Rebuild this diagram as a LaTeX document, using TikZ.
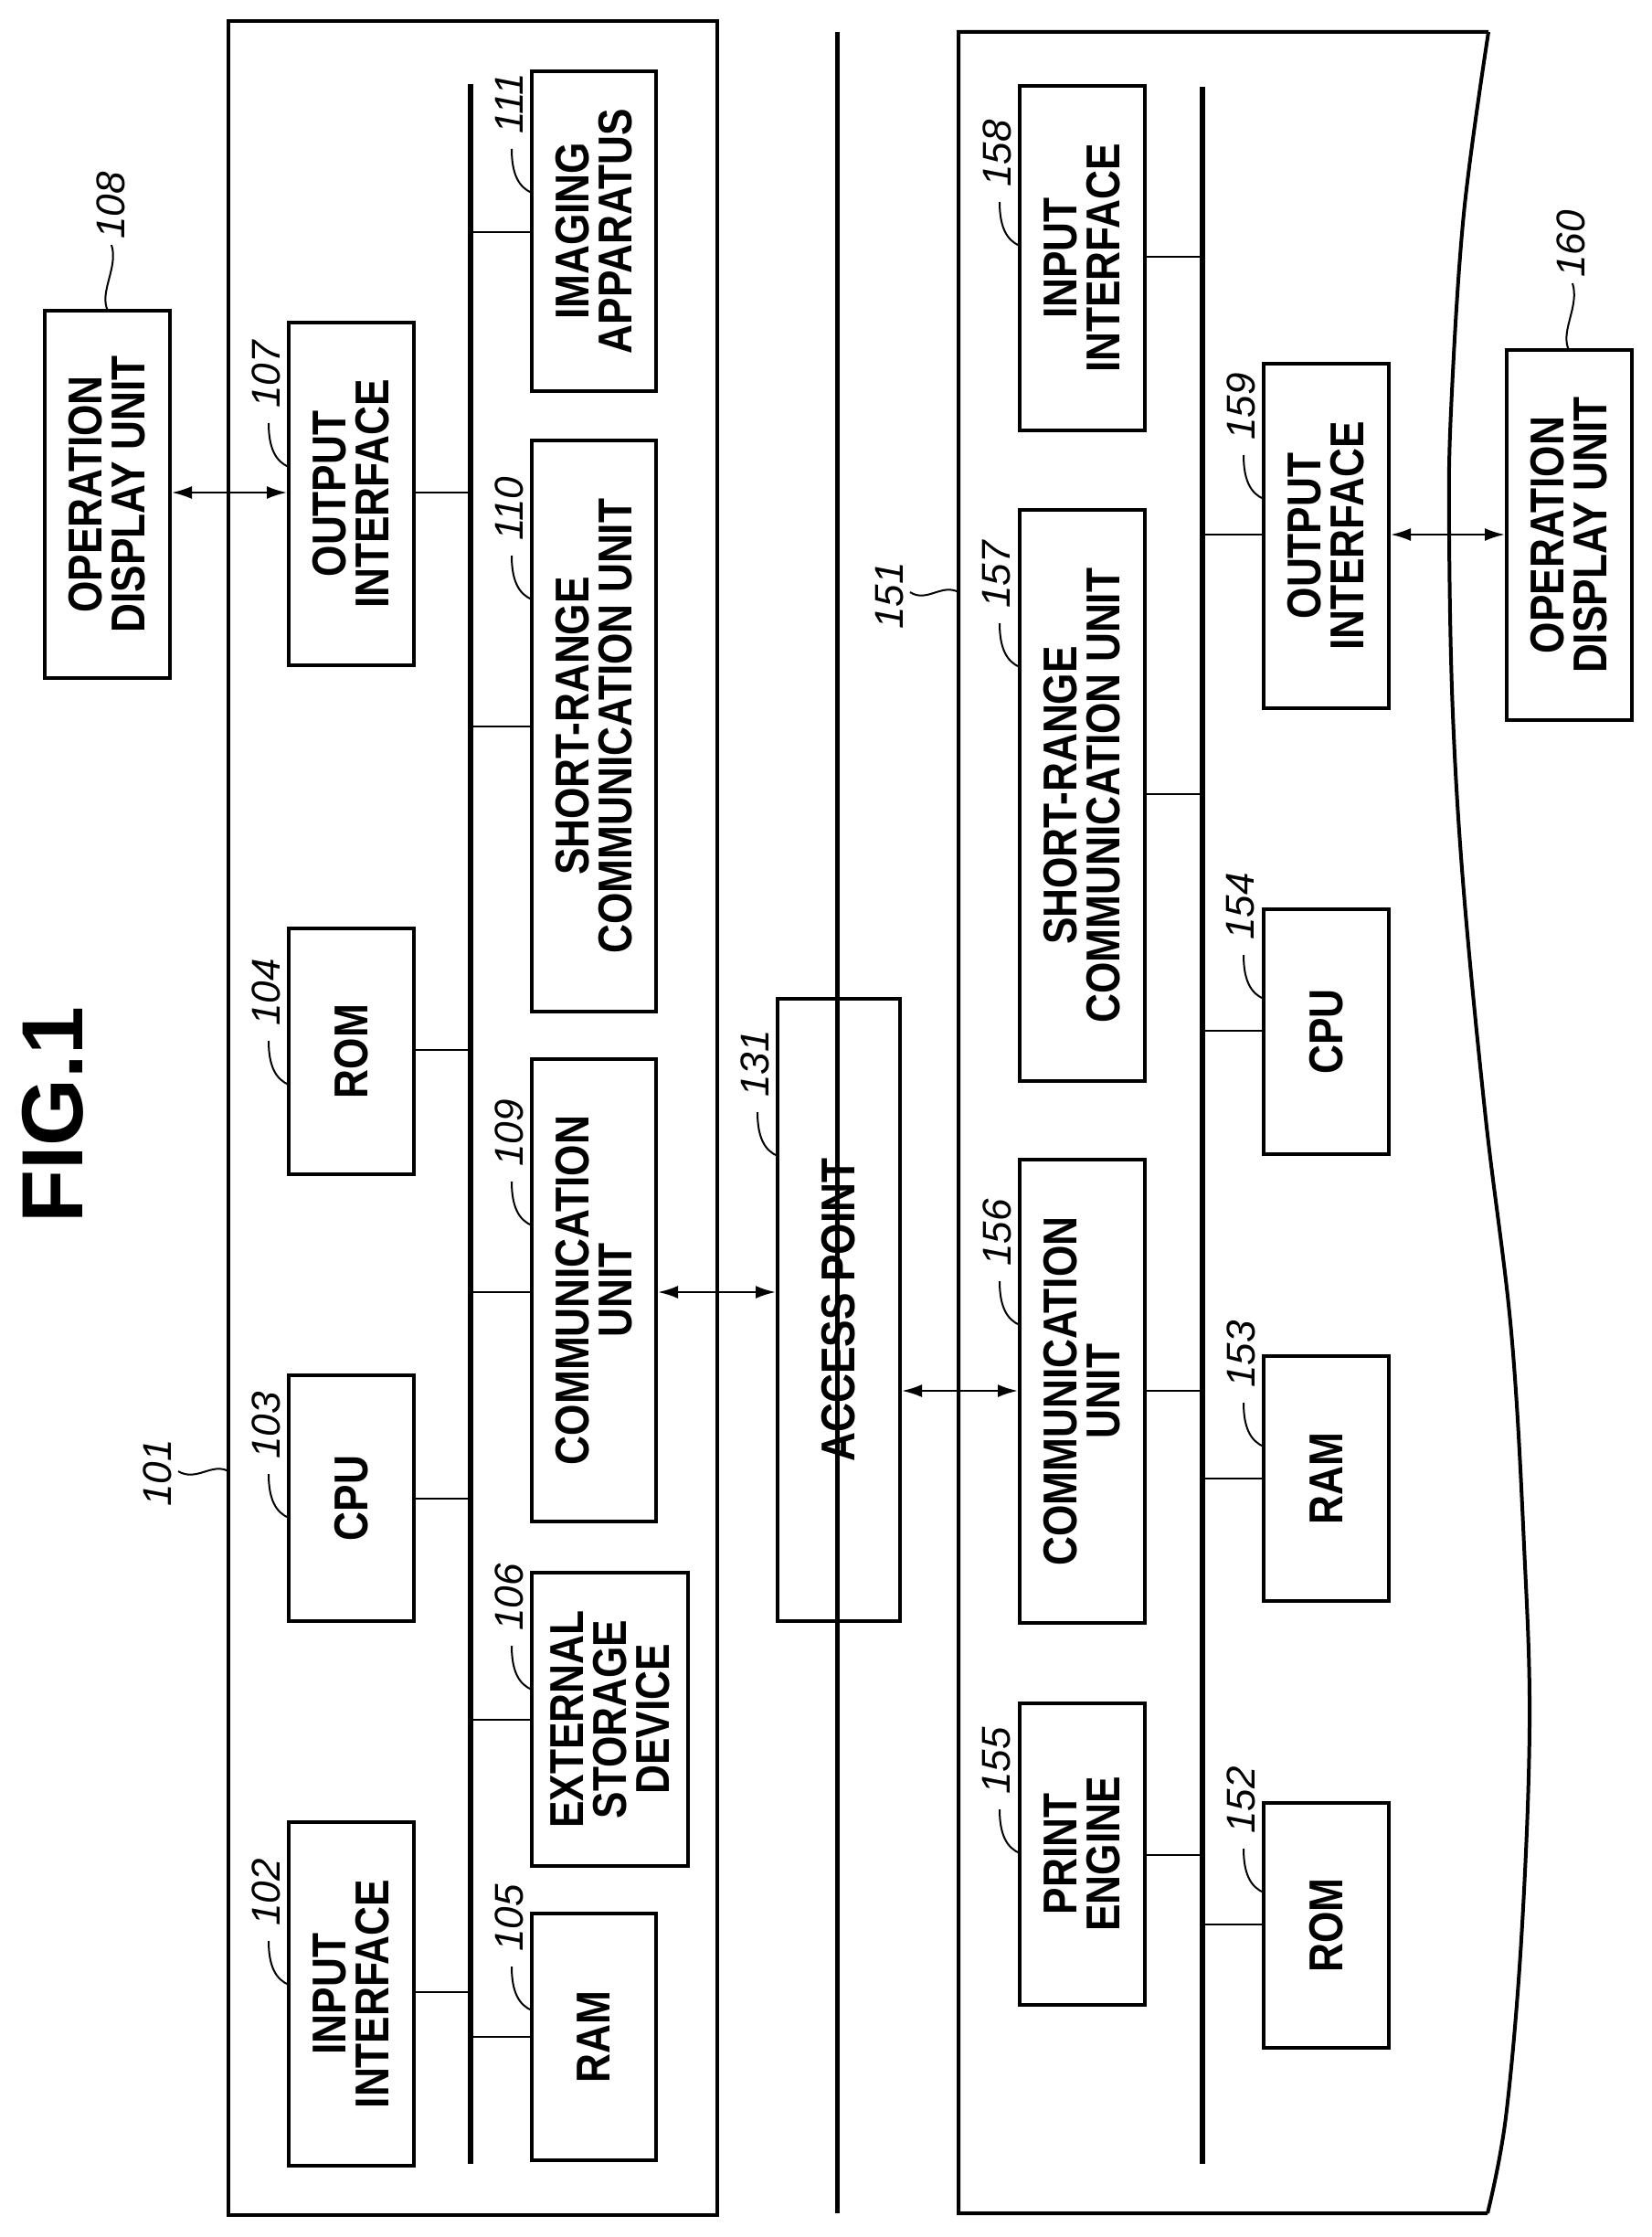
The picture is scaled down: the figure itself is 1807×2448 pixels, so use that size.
\documentclass[tikz,border=0pt]{standalone}
\usepackage{fontspec}
\setmainfont{Liberation Sans}
\newfontfamily\boxfont{Liberation Sans}[FakeStretch=0.85]
\usetikzlibrary{arrows.meta}
\begin{document}
\begin{tikzpicture}[x=1pt,y=-1pt,
  box/.style={draw,line width=4pt,rotate=90,inner sep=0pt,align=center,font=\boxfont\bfseries\fontsize{52}{47}\selectfont},
  conn/.style={line width=2.5pt},
  bus/.style={line width=6pt},
  lead/.style={line width=2pt},
  num/.style={rotate=90,inner sep=0pt,font=\itshape\fontsize{44}{44}\selectfont},
  dbl/.style={line width=2.5pt,{Latex[length=22pt,width=14pt]}-{Latex[length=22pt,width=14pt]}}]
\newcommand\bx[6]{\node[box,minimum width={(#5-#4)*1pt},minimum height={(#3-#2)*1pt}] (#1) at ({(#2+#3)/2},{(#4+#5)/2}) {#6};}
\newcommand\lb[3]{\draw[lead] (#1,#2) .. controls (#1-14,#2-6) and (#1-22,#2-20) .. (#1-22,#2-48);
  \node[num,anchor=west] at (#1-25,#2-64) {#3};}
\useasboundingbox (0,0) rectangle (1807,2448);
% title
\node[rotate=90,font=\bfseries\fontsize{95}{95}\selectfont,inner sep=0pt] (title) at (58,1220) {FIG.1};
% frame 101
\draw[line width=4pt] (250,23) rectangle (785,2424);
\coordinate (b1t) at (515,92); \coordinate (b1b) at (515,2368);
\draw[bus] (b1t) -- (b1b);
% middle network line
\coordinate (mt) at (916,35); \coordinate (mb) at (916,2422);
\draw[line width=5pt] (mt) -- (mb);
% frame 151
\draw[line width=4pt] (1628,2422) -- (1049,2422) -- (1049,35) -- (1629,35)
  plot[smooth,tension=0.6] coordinates {(1629,35) (1602,234) (1588,450) (1586,585) (1590,781) (1602,976) (1626,1224) (1654,1458) (1668,1692) (1674,1888) (1665,2122) (1648,2317) (1628,2422)};
\coordinate (b2t) at (1316,95); \coordinate (b2b) at (1316,2368);
\draw[bus] (b2t) -- (b2b);
% boxes 101
\bx{b108}{49}{186}{340}{742}{OPERATION\\DISPLAY UNIT}
\bx{b107}{316}{453}{353}{728}{OUTPUT\\INTERFACE}
\bx{b104}{316}{453}{1016}{1285}{ROM}
\bx{b103}{316}{453}{1505}{1774}{CPU}
\bx{b102}{316}{453}{1994}{2370}{INPUT\\INTERFACE}
\bx{b111}{582}{718}{78}{428}{IMAGING\\APPARATUS}
\bx{b110}{582}{718}{482}{1107}{SHORT-RANGE\\COMMUNICATION UNIT}
\bx{b109}{582}{718}{1159}{1665}{COMMUNICATION\\UNIT}
\bx{b106}{582}{753}{1721}{2042}{EXTERNAL\\STORAGE\\DEVICE}
\bx{b105}{582}{718}{2094}{2364}{RAM}
\bx{b131}{851}{985}{1093}{1774}{ACCESS POINT}
% boxes 151
\bx{b158}{1116}{1253}{94}{471}{INPUT\\INTERFACE}
\bx{b157}{1116}{1253}{558}{1183}{SHORT-RANGE\\COMMUNICATION UNIT}
\bx{b156}{1116}{1253}{1269}{1776}{COMMUNICATION\\UNIT}
\bx{b155}{1116}{1253}{1864}{2194}{PRINT\\ENGINE}
\bx{b159}{1383}{1520}{398}{775}{OUTPUT\\INTERFACE}
\bx{b154}{1383}{1520}{995}{1263}{CPU}
\bx{b153}{1383}{1520}{1484}{1752}{RAM}
\bx{b152}{1383}{1520}{1973}{2241}{ROM}
\bx{b160}{1649}{1786}{383}{788}{OPERATION\\DISPLAY UNIT}
% connectors to bus 1
\draw[conn] (b107.south |- 0,539) -- (b1t |- 0,539);
\draw[conn] (b104.south |- 0,1149) -- (b1t |- 0,1149);
\draw[conn] (b103.south |- 0,1640) -- (b1t |- 0,1640);
\draw[conn] (b102.south |- 0,2180) -- (b1t |- 0,2180);
\draw[conn] (b111.north |- 0,254) -- (b1t |- 0,254);
\draw[conn] (b110.north |- 0,795) -- (b1t |- 0,795);
\draw[conn] (b109.north |- 0,1414) -- (b1t |- 0,1414);
\draw[conn] (b106.north |- 0,1882) -- (b1t |- 0,1882);
\draw[conn] (b105.north |- 0,2229) -- (b1t |- 0,2229);
% connectors to bus 2
\draw[conn] (b158.south |- 0,281) -- (b2t |- 0,281);
\draw[conn] (b157.south |- 0,869) -- (b2t |- 0,869);
\draw[conn] (b156.south |- 0,1522) -- (b2t |- 0,1522);
\draw[conn] (b155.south |- 0,2030) -- (b2t |- 0,2030);
\draw[conn] (b159.north |- 0,585) -- (b2t |- 0,585);
\draw[conn] (b154.north |- 0,1128) -- (b2t |- 0,1128);
\draw[conn] (b153.north |- 0,1618) -- (b2t |- 0,1618);
\draw[conn] (b152.north |- 0,2106) -- (b2t |- 0,2106);
% double arrows
\draw[dbl] (b108.south |- 0,539) -- (b107.north |- 0,539);
\draw[dbl] (b109.south |- 0,1414) -- (b131.north |- 0,1414);
\draw[dbl] (b131.south |- 0,1522) -- (b156.north |- 0,1522);
\draw[dbl] (b159.south |- 0,585) -- (b160.north |- 0,585);
% labels
\lb{316}{511}{107}
\lb{316}{1187}{104}
\lb{316}{1661}{103}
\lb{316}{2172}{102}
\lb{582}{211}{111}
\lb{582}{656}{110}
\lb{582}{1341}{109}
\lb{582}{1849}{106}
\lb{582}{2200}{105}
\lb{851}{1265}{131}
\lb{1116}{269}{158}
\lb{1116}{730}{157}
\lb{1116}{1450}{156}
\lb{1116}{2028}{155}
\lb{1383}{546}{159}
\lb{1383}{1093}{154}
\lb{1383}{1583}{153}
\lb{1383}{2071}{152}
% tilde leaders
\draw[lead] (250,1610) .. controls (232,1600) and (215,1622) .. (195,1610);
\node[num] at (172,1612) {101};
\draw[lead] (1049,648) .. controls (1031,638) and (1014,660) .. (996,648);
\node[num] at (974,652) {151};
\draw[lead] (118,340) .. controls (108,320) and (130,292) .. (122,268);
\node[num,anchor=west] at (121,262) {108};
\draw[lead] (1717,383) .. controls (1707,363) and (1729,335) .. (1721,310);
\node[num,anchor=west] at (1719,304) {160};
\end{tikzpicture}
\end{document}
